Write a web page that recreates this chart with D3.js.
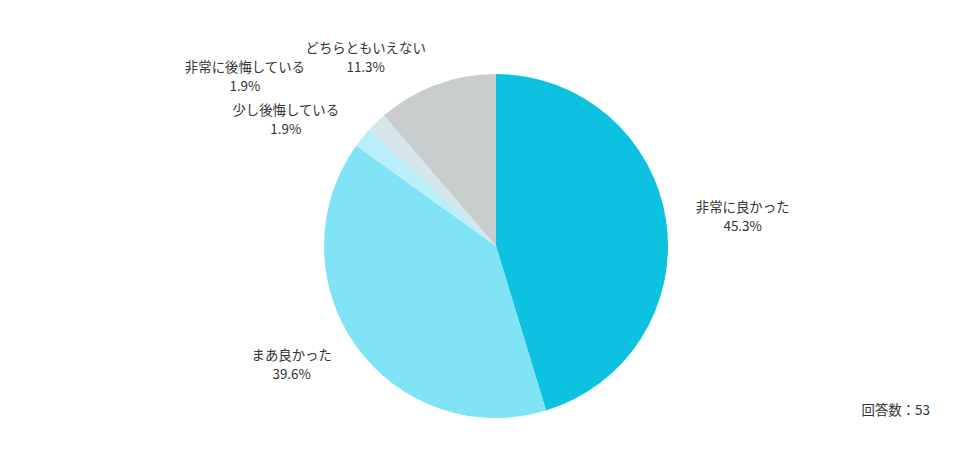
<!DOCTYPE html>
<html>
<head>
<meta charset="utf-8">
<script src="https://cdn.jsdelivr.net/npm/d3@7"></script>
<style>
  body { margin: 0; background: #fff; }
  text { font-family: "Noto Sans CJK JP", "Noto Sans", sans-serif; fill: #333; font-size: 13.4px; }
</style>
</head>
<body>
<div id="chart"></div>
<script>
"use strict";

// answers, clockwise from 12 o'clock
var categories = ["非常に良かった", "まあ良かった", "少し後悔している", "非常に後悔している", "どちらともいえない"];
var percents = [45.3, 39.6, 1.9, 1.9, 11.3];
var colors = ["#0dc1e0", "#80e4f6", "#b8eff9", "#d6e7eb", "#c9cccd"];
var totalAnswers = 53;

var width = 976, height = 459;
var cx = 496, cy = 246, radius = 172;
var labelRadius = 202;
var lineGap = 43; // min distance between label blocks

var svg = d3.select("#chart").append("svg")
    .attr("width", width)
    .attr("height", height);

var data = categories.map(function(c, i) {
  return { name: c, value: percents[i], color: colors[i] };
});

var pie = d3.pie()
    .value(function(d) { return d.value; })
    .sort(null);

var arc = d3.arc().innerRadius(0).outerRadius(radius);

var arcs = pie(data);

var g = svg.append("g")
    .attr("transform", "translate(" + cx + "," + cy + ")");

g.selectAll("path")
  .data(arcs)
  .enter().append("path")
    .attr("d", arc)
    .attr("fill", function(d) { return d.data.color; });

// label anchor points on a bigger circle
var labels = arcs.map(function(a) {
  var mid = (a.startAngle + a.endAngle) / 2;
  return {
    name: a.data.name,
    pct: a.data.value.toFixed(1) + "%",
    right: Math.sin(mid) >= 0,
    x: Math.sin(mid) * labelRadius,
    y: -Math.cos(mid) * labelRadius
  };
});

var lab = g.selectAll(".lab")
  .data(labels)
  .enter().append("g")
    .attr("class", "lab");

lab.append("text")
    .attr("class", "nm")
    .attr("text-anchor", "middle")
    .attr("dy", "-0.3em")
    .text(function(d) { return d.name; });

lab.append("text")
    .attr("class", "pc")
    .attr("text-anchor", "middle")
    .attr("dy", "1.12em")
    .text(function(d) { return d.pct; });

// measure each block, get its box
lab.each(function(d) {
  d.w = Math.max(
    d3.select(this).select(".nm").node().getComputedTextLength(),
    d3.select(this).select(".pc").node().getComputedTextLength());
});

function box(d) {
  return d.right ? [d.x, d.x + d.w] : [d.x - d.w, d.x];
}

// simple overlap fix on the left side: push upper ones up and out
var left = labels.filter(function(l) { return !l.right; })
  .sort(function(a, b) { return b.y - a.y; });
for (var i = 1; i < left.length; i++) {
  var cur = left[i];
  for (var j = 0; j < i; j++) {
    var prev = left[j];
    var a = box(prev), b = box(cur);
    var hOverlap = Math.min(a[1], b[1]) - Math.max(a[0], b[0]);
    if (hOverlap > 4 && prev.y - cur.y < lineGap) {
      var shift = lineGap - (prev.y - cur.y);
      cur.y -= shift;
      cur.x -= shift * 2;
    }
  }
}

lab.attr("transform", function(d) {
  var x = d.right ? d.x + d.w / 2 : d.x - d.w / 2;
  return "translate(" + x + "," + d.y + ")";
});

svg.append("text")
    .attr("x", 930)
    .attr("y", 415)
    .attr("text-anchor", "end")
    .text("回答数：" + totalAnswers);
</script>
</body>
</html>
